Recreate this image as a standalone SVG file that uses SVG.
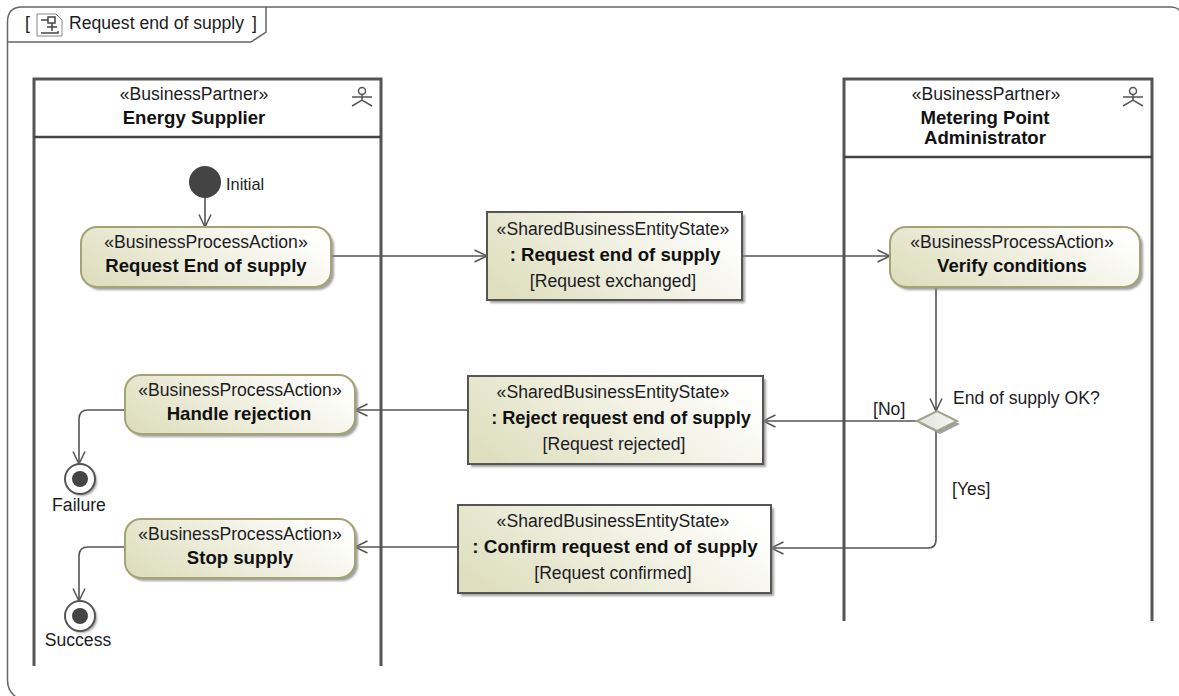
<svg xmlns="http://www.w3.org/2000/svg" width="1179" height="696" viewBox="0 0 1179 696">
<style>
text{font-family:"Liberation Sans",Arial,sans-serif;font-size:17.6px;fill:#1c1c24;text-anchor:middle}
.b{font-weight:bold;font-size:18.6px;fill:#111}
.l{text-anchor:start}
.lane{fill:none;stroke:#555;stroke-width:3}
.hdr{stroke:#444;stroke-width:2.4;fill:none}
.act{fill:url(#g);stroke:#a3a375;stroke-width:2}
.obj{fill:url(#g);stroke:#555;stroke-width:2}
.sh{fill:#888;opacity:.8;filter:url(#blur)}
.c{fill:none;stroke:#555;stroke-width:1.6;marker-end:url(#arr)}
.thin{fill:none;stroke:#555;stroke-width:1.5}
</style>
<defs>
<linearGradient id="g" x1="0" y1="0.7" x2="1" y2="0.3"><stop offset="0" stop-color="#dfdfc0"/><stop offset="1" stop-color="#fff"/></linearGradient>
<linearGradient id="dg" x1="0" y1="0" x2="1" y2="0"><stop offset="0" stop-color="#e0e0dc"/><stop offset="1" stop-color="#f8f8f8"/></linearGradient>
<filter id="blur" x="-10%" y="-10%" width="120%" height="120%"><feGaussianBlur stdDeviation="1.2"/></filter>
<marker id="arr" markerUnits="userSpaceOnUse" markerWidth="16" markerHeight="16" refX="13.5" refY="7" orient="auto"><path d="M1 1 L13.5 7 L1 13" fill="none" stroke="#555" stroke-width="1.5"/></marker>
</defs>
<rect width="1179" height="696" fill="#fff"/>
<g id="frame">
<path d="M1180 11Q1177 7 1171 7H22Q7.500 7 7.500 22V680Q7.500 691 16 697" fill="none" stroke="#666" stroke-width="1.5"/>
<path d="M7.500 42H251L266 32V7" fill="none" stroke="#666" stroke-width="1.500"/>
<path d="M37 14H56L62 20V36H37Z" fill="#fff" stroke="#888"/>
<path d="M41 20H48M48 17h7v6h-7zM52 23v8M47 27h10M41 33H58V31" fill="none" stroke="#444" stroke-width="1.500"/>
<text class="l" x="25" y="29">[</text>
<text class="l" x="69" y="29">Request end of supply</text>
<text class="l" x="252" y="29">]</text>
</g>
<g id="lane-energy-supplier">
<path class="lane" d="M34 666V79H381V666"/>
<path class="hdr" d="M34 137H381"/>
<text x="194" y="100">«BusinessPartner»</text>
<text class="b" x="194" y="124">Energy Supplier</text>
<g class="thin"><circle cx="362" cy="91" r="3.500"/><path d="M362 95V100M352 97H372M352 106L362 100L372 106"/></g>
</g>
<g id="lane-metering-point-administrator">
<path class="lane" d="M844 621V79H1152V621"/>
<path class="hdr" d="M844 157H1152"/>
<text x="986" y="100">«BusinessPartner»</text>
<text class="b" x="985" y="124">Metering Point</text>
<text class="b" x="985" y="144">Administrator</text>
<g class="thin"><circle cx="1133" cy="91" r="3.500"/><path d="M1133 95V100M1123 97H1143M1123 106L1133 100L1143 106"/></g>
</g>
<g id="connectors">
<path class="c" d="M205 198V227"/>
<path class="c" d="M331 256H487"/>
<path class="c" d="M742 256H890"/>
<path class="c" d="M936 287V411"/>
<path class="c" d="M917 421H763"/>
<path class="c" d="M468 410H355"/>
<path class="c" d="M936 431V540Q936 548 928 548H771"/>
<path class="c" d="M458 547H355"/>
<path class="c" d="M125 410H88Q79 410 79 419V464"/>
<path class="c" d="M125 547H88Q79 547 79 556V601"/>
</g>
<g id="initial">
<circle cx="205" cy="182" r="16" fill="#444"/>
<text class="l" x="226" y="190" style="font-size:16.400px">Initial</text>
</g>
<g id="request-end-of-supply-action">
<rect class="sh" x="84" y="230" width="250" height="60" rx="16"/>
<rect class="act" x="81" y="227" width="250" height="60" rx="16"/>
<text x="206" y="248">«BusinessProcessAction»</text>
<text class="b" x="206" y="272">Request End of supply</text>
</g>
<g id="request-end-of-supply-object">
<rect class="sh" x="490" y="215" width="255" height="88"/>
<rect class="obj" x="487" y="212" width="255" height="88"/>
<text x="613" y="235">«SharedBusinessEntityState»</text>
<text class="b" x="615" y="261">: Request end of supply</text>
<text x="613" y="287">[Request exchanged]</text>
</g>
<g id="verify-conditions">
<rect class="sh" x="893" y="230" width="250" height="60" rx="16"/>
<rect class="act" x="890" y="227" width="250" height="60" rx="16"/>
<text x="1012" y="248">«BusinessProcessAction»</text>
<text class="b" x="1012" y="272">Verify conditions</text>
</g>
<g id="decision">
<path d="M920 424L940 414L960 424L940 434Z" fill="#888" opacity=".8"/>
<path d="M917 421L937 411L957 421L937 431Z" fill="url(#dg)" stroke="#a3a38a" stroke-width="2"/>
<text class="l" x="953" y="404">End of supply OK?</text>
<text class="l" x="873" y="415">[No]</text>
<text class="l" x="952" y="495">[Yes]</text>
</g>
<g id="reject-object">
<rect class="sh" x="471" y="379" width="295" height="88"/>
<rect class="obj" x="468" y="376" width="295" height="88"/>
<text x="613" y="398">«SharedBusinessEntityState»</text>
<text class="b" x="621" y="424" style="font-size:18.200px">: Reject request end of supply</text>
<text x="614" y="450">[Request rejected]</text>
</g>
<g id="confirm-object">
<rect class="sh" x="461" y="508" width="313" height="88"/>
<rect class="obj" x="458" y="505" width="313" height="88"/>
<text x="613" y="527">«SharedBusinessEntityState»</text>
<text class="b" x="615" y="553" style="font-size:18.900px">: Confirm request end of supply</text>
<text x="613" y="579">[Request confirmed]</text>
</g>
<g id="handle-rejection">
<rect class="sh" x="128" y="378" width="230" height="59" rx="16"/>
<rect class="act" x="125" y="375" width="230" height="59" rx="16"/>
<text x="240" y="396">«BusinessProcessAction»</text>
<text class="b" x="239" y="420">Handle rejection</text>
</g>
<g id="stop-supply">
<rect class="sh" x="128" y="522" width="230" height="59" rx="16"/>
<rect class="act" x="125" y="519" width="230" height="59" rx="16"/>
<text x="240" y="540">«BusinessProcessAction»</text>
<text class="b" x="240" y="564">Stop supply</text>
</g>
<g id="failure">
<circle class="sh" cx="82" cy="481" r="15"/>
<circle cx="80" cy="479" r="15" fill="#fff" stroke="#555" stroke-width="2"/>
<circle cx="80" cy="479" r="8" fill="#444"/>
<text x="79" y="511">Failure</text>
</g>
<g id="success">
<circle class="sh" cx="82" cy="618" r="15"/>
<circle cx="80" cy="616" r="15" fill="#fff" stroke="#555" stroke-width="2"/>
<circle cx="80" cy="616" r="8" fill="#444"/>
<text x="78" y="646">Success</text>
</g>
</svg>
